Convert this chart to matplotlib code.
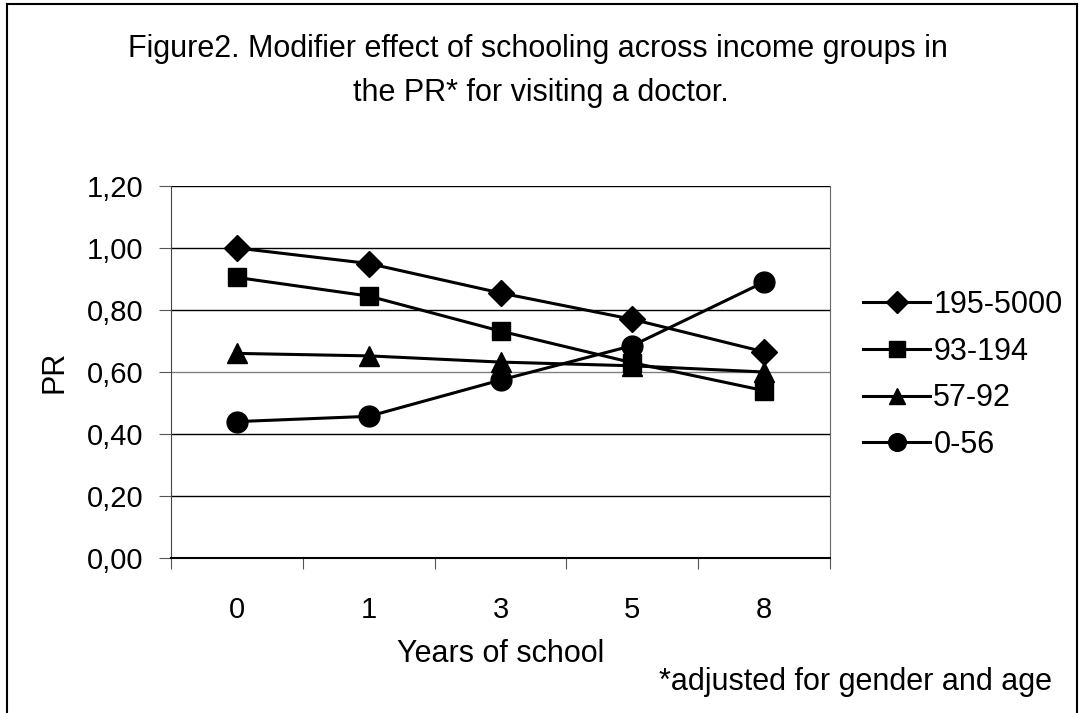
import numpy as np
import matplotlib.pyplot as plt

plt.rcParams['font.family'] = ['Liberation Sans', 'DejaVu Sans']

years = ['0', '1', '3', '5', '8']
income_groups = ['195-5000', '93-194', '57-92', '0-56']
pr_195_5000 = [1.00, 0.95, 0.855, 0.77, 0.665]
pr_93_194 = [0.905, 0.845, 0.732, 0.63, 0.54]
pr_57_92 = [0.66, 0.652, 0.632, 0.62, 0.60]
pr_0_56 = [0.44, 0.457, 0.574, 0.685, 0.89]
yticks = [0.0, 0.2, 0.4, 0.6, 0.8, 1.0, 1.2]

series = [pr_195_5000, pr_93_194, pr_57_92, pr_0_56]
markers = [('D', 13), ('s', 13), ('^', 14), ('o', 15)]

W, H = 1082, 713
fig = plt.figure(figsize=(W / 100, H / 100), dpi=100)
fig.patch.set_facecolor('white')

# chart area border (bottom edge is cut off in the source)
bl, bt, br = 7 / W, 1 - 4 / H, 1077 / W
fig.add_artist(plt.Line2D([bl, bl], [0, bt], color='black', lw=1.5))
fig.add_artist(plt.Line2D([bl, br], [bt, bt], color='black', lw=1.5))
fig.add_artist(plt.Line2D([br, br], [0, bt], color='black', lw=1.5))

ax = fig.add_axes([171 / W, 1 - 558 / H, (830 - 171) / W, (558 - 186) / H])
x = np.arange(len(years))
for vals, name, (m, ms) in zip(series, income_groups, markers):
    ax.plot(x, vals, color='black', lw=2.2, marker=m, markersize=ms,
            markerfacecolor='black', markeredgecolor='black', label=name)

ax.set_xlim(-0.5, len(years) - 0.5)
ax.set_ylim(0, 1.2)
ax.set_yticks(yticks)
ax.set_yticklabels([('%.2f' % v).replace('.', ',') for v in yticks], fontsize=21)
for v in yticks[1:]:
    ax.axhline(v, color='#808080' if abs(v - 0.6) < 1e-9 else 'black', lw=1.0, zorder=0)

# category boundaries as ticks, labels in the middle
ax.set_xticks(np.arange(-0.5, len(years), 1.0))
ax.set_xticklabels([])
ax.set_xticks(x, minor=True)
ax.set_xticklabels(years, minor=True, fontsize=21)
ax.tick_params(axis='x', which='minor', length=0, pad=27)
ax.tick_params(axis='x', which='major', length=8, direction='out', color='#555555')
ax.tick_params(axis='y', length=9, direction='out', pad=11, color='#555555')

ax.spines['top'].set_visible(False)
ax.spines['left'].set_color('#444444')
ax.spines['right'].set_color('#666666')
ax.spines['bottom'].set_linewidth(1.5)

ax.set_xlabel('Years of school', fontsize=22, labelpad=11)
ax.set_ylabel('PR', fontsize=22, labelpad=12)

ax.legend(loc='center left', bbox_to_anchor=((863 - 171) / (830 - 171), 0.492), frameon=False,
          fontsize=22, handlelength=2.2, handletextpad=0.1, labelspacing=0.55,
          borderpad=0, borderaxespad=0, markerscale=0.85)

fig.text(0.497, 1 - 57 / H, 'Figure2. Modifier effect of schooling across income groups in',
         ha='center', va='baseline', fontsize=22)
fig.text(0.5, 1 - 101 / H, 'the PR* for visiting a doctor.', ha='center', va='baseline', fontsize=22)
fig.text(1052 / W, 1 - 690 / H, '*adjusted for gender and age', ha='right', va='baseline', fontsize=22)

fig.savefig('out.png', dpi=100)
